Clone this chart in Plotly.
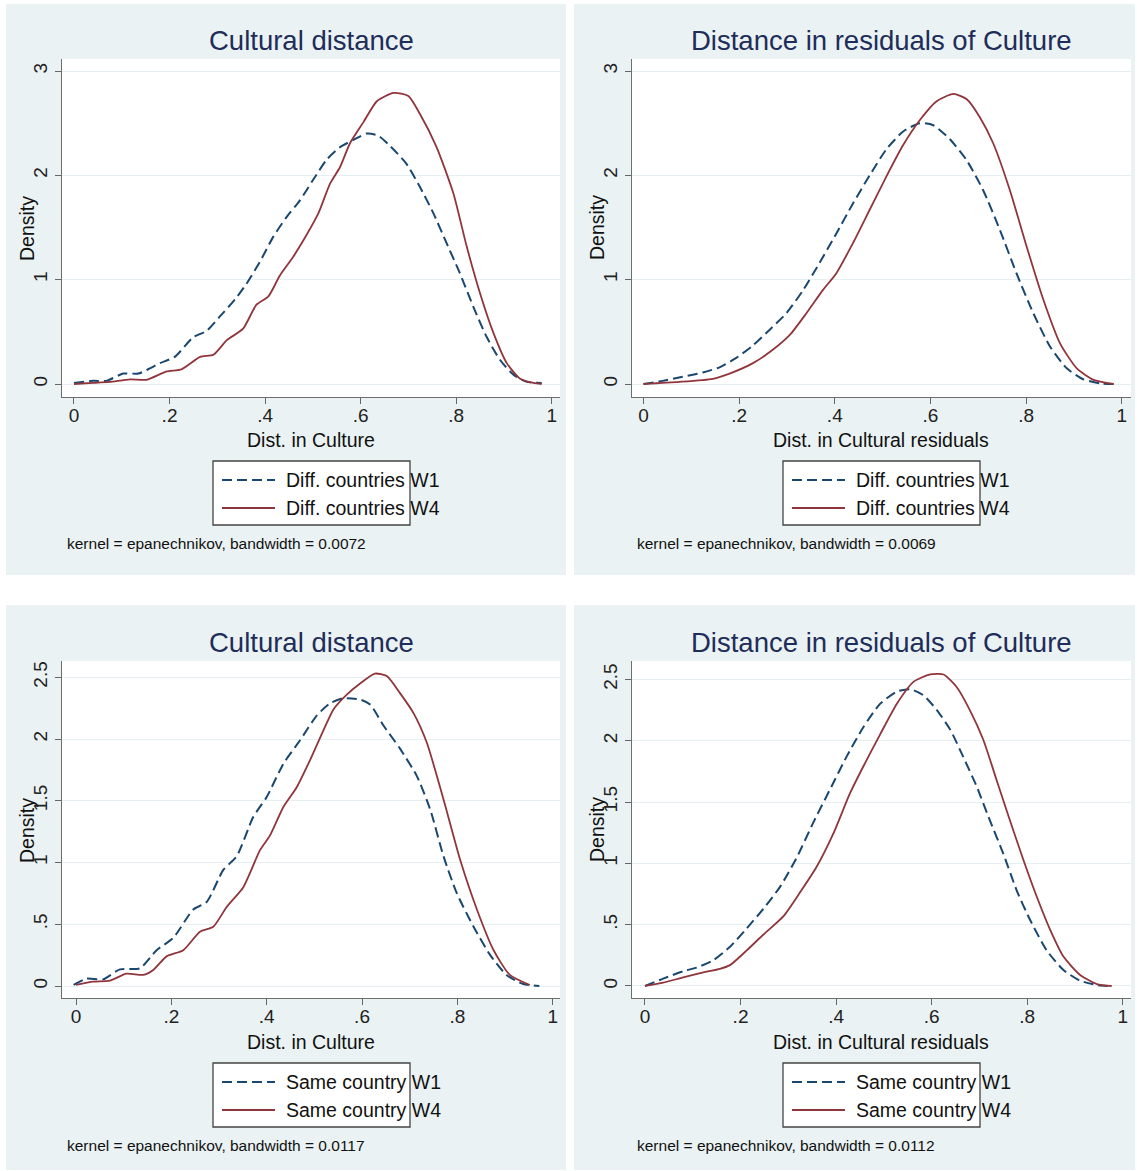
import plotly.graph_objects as go

W, H = 1137, 1171

# ---------------- data ----------------
tl_w1_x = [0, 0.04, 0.068, 0.103, 0.135, 0.159, 0.18, 0.211, 0.25, 0.278, 0.306, 0.337, 0.361, 0.389, 0.417, 0.445, 0.473, 0.501, 0.529, 0.557, 0.585, 0.613, 0.637, 0.662, 0.696, 0.724, 0.752, 0.78, 0.808, 0.836, 0.864, 0.892, 0.92, 0.948, 0.979]
tl_w1_y = [0.01, 0.03, 0.03, 0.10, 0.10, 0.15, 0.20, 0.26, 0.45, 0.51, 0.65, 0.81, 0.96, 1.17, 1.41, 1.60, 1.76, 1.96, 2.15, 2.27, 2.34, 2.40, 2.38, 2.28, 2.11, 1.89, 1.64, 1.35, 1.06, 0.74, 0.45, 0.23, 0.09, 0.02, 0.01]
tl_w4_x = [0, 0.04, 0.075, 0.117, 0.152, 0.194, 0.225, 0.264, 0.292, 0.32, 0.354, 0.382, 0.407, 0.431, 0.459, 0.487, 0.512, 0.536, 0.557, 0.578, 0.606, 0.634, 0.669, 0.7, 0.724, 0.759, 0.794, 0.822, 0.85, 0.878, 0.906, 0.934, 0.962, 0.979]
tl_w4_y = [0.0, 0.01, 0.02, 0.045, 0.04, 0.12, 0.14, 0.26, 0.28, 0.42, 0.53, 0.76, 0.84, 1.04, 1.22, 1.43, 1.64, 1.92, 2.08, 2.31, 2.51, 2.71, 2.79, 2.76, 2.59, 2.27, 1.83, 1.32, 0.87, 0.49, 0.20, 0.05, 0.01, 0.0]

tr_w1_x = [0, 0.04, 0.082, 0.124, 0.159, 0.194, 0.229, 0.264, 0.299, 0.334, 0.368, 0.403, 0.438, 0.473, 0.508, 0.543, 0.578, 0.606, 0.64, 0.675, 0.71, 0.745, 0.78, 0.815, 0.85, 0.885, 0.92, 0.955, 0.983]
tr_w1_y = [0, 0.03, 0.07, 0.11, 0.16, 0.25, 0.37, 0.52, 0.68, 0.90, 1.16, 1.44, 1.73, 2.00, 2.25, 2.42, 2.50, 2.48, 2.35, 2.15, 1.86, 1.48, 1.06, 0.68, 0.36, 0.15, 0.045, 0.006, 0]
tr_w4_x = [0, 0.075, 0.145, 0.18, 0.229, 0.271, 0.306, 0.341, 0.375, 0.403, 0.438, 0.473, 0.508, 0.543, 0.578, 0.613, 0.648, 0.676, 0.703, 0.731, 0.766, 0.801, 0.836, 0.871, 0.906, 0.941, 0.983]
tr_w4_y = [0, 0.02, 0.05, 0.10, 0.20, 0.33, 0.47, 0.68, 0.90, 1.06, 1.35, 1.67, 1.99, 2.29, 2.53, 2.71, 2.78, 2.73, 2.56, 2.31, 1.86, 1.32, 0.81, 0.39, 0.15, 0.04, 0]

bl_w1_x = [-0.005, 0.022, 0.057, 0.092, 0.134, 0.169, 0.204, 0.246, 0.274, 0.309, 0.337, 0.372, 0.40, 0.435, 0.47, 0.505, 0.533, 0.561, 0.596, 0.617, 0.645, 0.68, 0.715, 0.743, 0.771, 0.799, 0.834, 0.869, 0.903, 0.938, 0.972]
bl_w1_y = [0.01, 0.06, 0.054, 0.135, 0.143, 0.29, 0.39, 0.62, 0.68, 0.94, 1.05, 1.37, 1.53, 1.80, 1.99, 2.19, 2.29, 2.33, 2.32, 2.28, 2.11, 1.92, 1.70, 1.43, 1.05, 0.75, 0.48, 0.25, 0.09, 0.016, 0]
bl_w4_x = [0, 0.036, 0.071, 0.106, 0.141, 0.162, 0.19, 0.225, 0.26, 0.288, 0.316, 0.351, 0.386, 0.407, 0.435, 0.463, 0.491, 0.519, 0.54, 0.568, 0.596, 0.627, 0.652, 0.68, 0.708, 0.736, 0.771, 0.806, 0.841, 0.876, 0.91, 0.952]
bl_w4_y = [0.01, 0.035, 0.043, 0.10, 0.09, 0.13, 0.24, 0.29, 0.44, 0.48, 0.64, 0.80, 1.10, 1.22, 1.45, 1.61, 1.83, 2.07, 2.24, 2.36, 2.45, 2.53, 2.51, 2.37, 2.21, 1.97, 1.51, 1.02, 0.62, 0.29, 0.09, 0.008]

br_w1_x = [0, 0.038, 0.08, 0.108, 0.143, 0.178, 0.213, 0.248, 0.283, 0.318, 0.352, 0.387, 0.422, 0.457, 0.492, 0.527, 0.555, 0.583, 0.611, 0.639, 0.666, 0.694, 0.722, 0.75, 0.778, 0.806, 0.841, 0.876, 0.911, 0.946, 0.973]
br_w1_y = [0, 0.06, 0.12, 0.15, 0.21, 0.32, 0.47, 0.63, 0.81, 1.05, 1.33, 1.60, 1.87, 2.11, 2.30, 2.40, 2.42, 2.37, 2.25, 2.09, 1.87, 1.63, 1.35, 1.08, 0.78, 0.54, 0.29, 0.13, 0.043, 0.008, 0]
br_w4_x = [0, 0.038, 0.08, 0.122, 0.157, 0.178, 0.213, 0.248, 0.29, 0.324, 0.359, 0.394, 0.429, 0.457, 0.492, 0.527, 0.562, 0.597, 0.625, 0.652, 0.68, 0.708, 0.736, 0.764, 0.792, 0.82, 0.848, 0.876, 0.911, 0.946, 0.977]
br_w4_y = [0, 0.027, 0.07, 0.11, 0.14, 0.17, 0.29, 0.42, 0.57, 0.76, 0.97, 1.24, 1.57, 1.79, 2.05, 2.30, 2.48, 2.54, 2.54, 2.44, 2.25, 2.01, 1.68, 1.35, 1.03, 0.73, 0.46, 0.24, 0.09, 0.016, 0]

titles = ["Cultural distance", "Distance in residuals of Culture",
          "Cultural distance", "Distance in residuals of Culture"]
x_titles = ["Dist. in Culture", "Dist. in Cultural residuals",
            "Dist. in Culture", "Dist. in Cultural residuals"]
legend_labels = [["Diff. countries W1", "Diff. countries W4"],
                 ["Diff. countries W1", "Diff. countries W4"],
                 ["Same country W1", "Same country W4"],
                 ["Same country W1", "Same country W4"]]
notes = ["kernel = epanechnikov, bandwidth = 0.0072",
         "kernel = epanechnikov, bandwidth = 0.0069",
         "kernel = epanechnikov, bandwidth = 0.0117",
         "kernel = epanechnikov, bandwidth = 0.0112"]
x_tickvals = [0, 0.2, 0.4, 0.6, 0.8, 1]
x_ticktext = ["0", ".2", ".4", ".6", ".8", "1"]
y_top_tickvals = [0, 1, 2, 3]
y_top_ticktext = ["0", "1", "2", "3"]
y_bot_tickvals = [0, 0.5, 1, 1.5, 2, 2.5]
y_bot_ticktext = ["0", ".5", "1", "1.5", "2", "2.5"]

series = [(tl_w1_x, tl_w1_y, tl_w4_x, tl_w4_y),
          (tr_w1_x, tr_w1_y, tr_w4_x, tr_w4_y),
          (bl_w1_x, bl_w1_y, bl_w4_x, bl_w4_y),
          (br_w1_x, br_w1_y, br_w4_x, br_w4_y)]

# ---------------- styling / layout ----------------
BG = "#EAF2F3"
BLUE = "#1a476f"
RED = "#90353b"
TITLE_C = "#1e2d5a"
FONT = "Liberation Sans, Arial, sans-serif"
DASH = "10px,5px"


def fx(px):
    return px / W


def fy(py):
    return 1 - py / H


# panel pixel geometry: (bg x0, bg x1, bg y0, bg y1, plot x0, plot x1, plot y0, plot y1, xrange, yrange, dx, dy)
panels = [
    (6, 566, 4, 575, 62, 560, 59, 397, [-0.0251, 1.0174], [-0.1246, 3.115], 0, 0),
    (574, 1135, 4, 575, 632, 1131, 59, 397, [-0.024, 1.0194], [-0.1246, 3.115], 570, 0),
    (6, 566, 605, 1170, 62, 560, 661, 998, [-0.0294, 1.0153], [-0.097, 2.632], 0, 602),
    (574, 1135, 605, 1170, 632, 1131, 661, 998, [-0.0272, 1.0174], [-0.098, 2.65], 570, 602),
]

fig = go.Figure()
shapes = []
annotations = []
layout_axes = {}

for i, (bx0, bx1, by0, by1, px0, px1, py0, py1, xr, yr, dx, dy) in enumerate(panels):
    n = "" if i == 0 else str(i + 1)
    xa, ya = "x" + n, "y" + n
    w1x, w1y, w4x, w4y = series[i]
    fig.add_trace(go.Scatter(x=w1x, y=w1y, xaxis=xa, yaxis=ya, mode="lines",
                             line=dict(color=BLUE, width=2, dash=DASH, shape="spline", smoothing=0.6),
                             name=legend_labels[i][0], showlegend=False))
    fig.add_trace(go.Scatter(x=w4x, y=w4y, xaxis=xa, yaxis=ya, mode="lines",
                             line=dict(color=RED, width=1.8, shape="spline", smoothing=0.6),
                             name=legend_labels[i][1], showlegend=False))

    top = i < 2
    layout_axes["xaxis" + n] = dict(
        domain=[fx(px0), fx(px1)], anchor=ya, range=xr,
        tickvals=x_tickvals, ticktext=x_ticktext, ticks="outside", ticklen=6,
        tickcolor="#666", tickwidth=1, showline=True, linecolor="#6e6e6e", linewidth=1.4,
        showgrid=False, zeroline=False, ticklabelstandoff=-5,
        tickfont=dict(size=19, color="#222", family=FONT),
    )
    layout_axes["yaxis" + n] = dict(
        domain=[fy(py1), fy(py0)], anchor=xa, range=yr,
        tickvals=y_top_tickvals if top else y_bot_tickvals,
        ticktext=y_top_ticktext if top else y_bot_ticktext,
        ticks="outside", ticklen=6, tickangle=-90,
        tickcolor="#666", tickwidth=1, showline=True, linecolor="#6e6e6e", linewidth=1.4,
        showgrid=True, gridcolor="#e6eff1", gridwidth=1.2, zeroline=False,
        tickfont=dict(size=19, color="#222", family=FONT),
    )

    # panel background and white plot region
    shapes.append(dict(type="rect", xref="paper", yref="paper", layer="below",
                       x0=fx(bx0), x1=fx(bx1), y0=fy(by1), y1=fy(by0),
                       fillcolor=BG, line=dict(width=0)))
    shapes.append(dict(type="rect", xref="paper", yref="paper", layer="below",
                       x0=fx(px0), x1=fx(px1), y0=fy(py1), y1=fy(py0),
                       fillcolor="white", line=dict(width=0)))

    # titles
    annotations.append(dict(text=titles[i], x=fx(311 + dx), y=fy(40 + dy), xref="paper", yref="paper",
                            showarrow=False, xanchor="center", yanchor="middle",
                            font=dict(size=27.5, color=TITLE_C, family=FONT)))
    annotations.append(dict(text=x_titles[i], x=fx(311 + dx), y=fy(440 + dy), xref="paper", yref="paper",
                            showarrow=False, xanchor="center", yanchor="middle",
                            font=dict(size=19.5, color="#111", family=FONT)))
    annotations.append(dict(text="Density", x=fx(27 + dx), y=fy(228 + dy), xref="paper", yref="paper",
                            showarrow=False, xanchor="center", yanchor="middle", textangle=-90,
                            font=dict(size=19.5, color="#111", family=FONT)))
    annotations.append(dict(text=notes[i], x=fx(65 + dx), y=fy(543 + dy), xref="paper", yref="paper",
                            showarrow=False, xanchor="left", yanchor="middle",
                            font=dict(size=15.5, color="#111", family=FONT)))

    # legend (drawn manually, Stata-style, text overflowing the box)
    lx0, lx1, ly0, ly1 = 213 + dx, 410 + dx, 461 + dy, 525 + dy
    shapes.append(dict(type="rect", xref="paper", yref="paper", layer="above",
                       x0=fx(lx0), x1=fx(lx1), y0=fy(ly1), y1=fy(ly0),
                       fillcolor="white", line=dict(color="#444", width=1.3)))
    for r, (col, dsh, lw) in enumerate([(BLUE, "dash", 2), (RED, "solid", 1.8)]):
        yy = 480 + 28 * r + dy
        shapes.append(dict(type="line", xref="paper", yref="paper", layer="above",
                           x0=fx(222 + dx), x1=fx(275 + dx), y0=fy(yy), y1=fy(yy),
                           line=dict(color=col, width=lw, dash=DASH if dsh == "dash" else "solid")))
        annotations.append(dict(text=legend_labels[i][r], x=fx(284 + dx), y=fy(yy), xref="paper", yref="paper",
                                showarrow=False, xanchor="left", yanchor="middle",
                                font=dict(size=19.5, color="#111", family=FONT)))

fig.update_layout(
    width=W, height=H, autosize=False,
    margin=dict(l=0, r=0, t=0, b=0),
    paper_bgcolor="white", plot_bgcolor="rgba(0,0,0,0)",
    shapes=shapes, annotations=annotations, showlegend=False,
    font=dict(family=FONT),
    **layout_axes,
)

fig.write_html("out.html", config={"displayModeBar": False},
               post_script="document.body.style.margin='0';")
